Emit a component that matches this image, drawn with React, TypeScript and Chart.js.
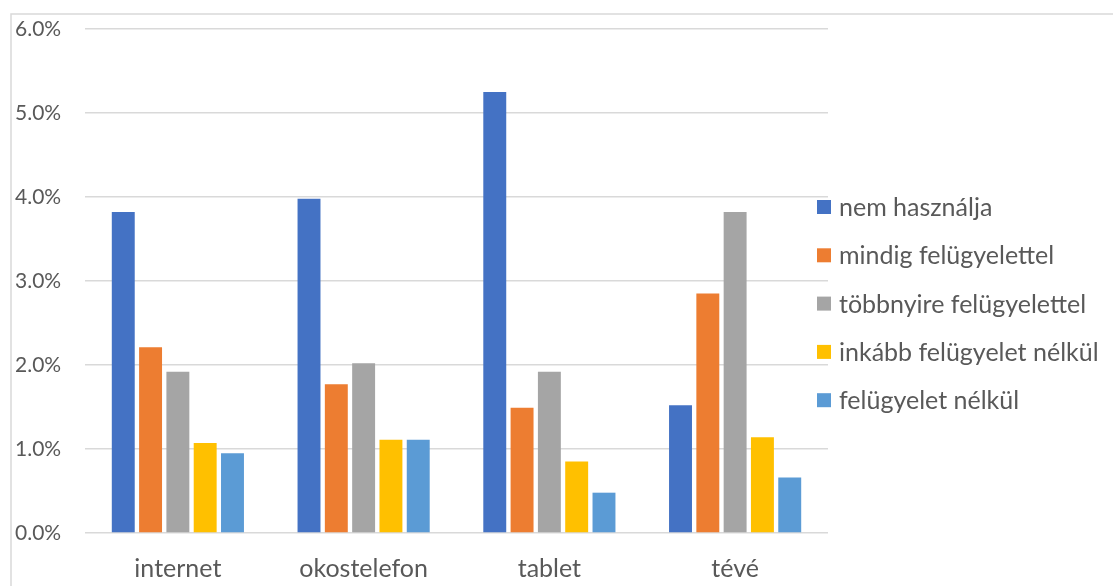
import React, { useEffect, useRef } from "react";
import { Chart, registerables } from "chart.js";

Chart.register(...registerables);

const categories = ["internet", "okostelefon", "tablet", "tévé"];
const seriesNames = [
  "nem használja",
  "mindig felügyelettel",
  "többnyire felügyelettel",
  "inkább felügyelet nélkül",
  "felügyelet nélkül",
];
const nemHasznalja = [3.82, 3.98, 5.25, 1.52];
const mindigFelugyelettel = [2.21, 1.77, 1.49, 2.85];
const tobbnyireFelugyelettel = [1.92, 2.02, 1.92, 3.82];
const inkabbFelugyeletNelkul = [1.07, 1.11, 0.85, 1.14];
const felugyeletNelkul = [0.95, 1.11, 0.48, 0.66];
const seriesColors = ["#4472C4", "#ED7D31", "#A5A5A5", "#FFC000", "#5B9BD5"];
const yTicks = [0, 1, 2, 3, 4, 5, 6];

const FONT = "Lato, 'Open Sans', sans-serif";
const TEXT = "#595959";

// Frame of the chart object (only its top and left edges fall on the page)
const framePlugin = {
  id: "frame",
  beforeDraw(chart: any) {
    const { ctx } = chart;
    ctx.save();
    ctx.strokeStyle = "#d9d9d9";
    ctx.lineWidth = 1.5;
    ctx.beginPath();
    ctx.moveTo(11, chart.height);
    ctx.lineTo(11, 14);
    ctx.lineTo(chart.width, 14);
    ctx.stroke();
    ctx.restore();
  },
};

// Vertical legend laid over the right end of the plot area
const legendPlugin = {
  id: "sideLegend",
  afterDraw(chart: any) {
    const { ctx } = chart;
    const x = 817;
    const top = 200;
    const step = 48.3;
    const box = 14;
    ctx.save();
    ctx.font = `25px ${FONT}`;
    ctx.textBaseline = "middle";
    ctx.textAlign = "left";
    chart.data.datasets.forEach((ds: any, i: number) => {
      const y = top + i * step;
      ctx.fillStyle = ds.backgroundColor;
      ctx.fillRect(x, y, box, box);
      ctx.fillStyle = TEXT;
      ctx.fillText(ds.label, x + 22, y + box / 2 + 1);
    });
    ctx.restore();
  },
};

export default function App() {
  const ref = useRef<HTMLCanvasElement>(null);

  useEffect(() => {
    if (!ref.current) return;
    const values = [
      nemHasznalja,
      mindigFelugyelettel,
      tobbnyireFelugyelettel,
      inkabbFelugyeletNelkul,
      felugyeletNelkul,
    ];
    const chart = new Chart(ref.current, {
      type: "bar",
      data: {
        labels: categories,
        datasets: seriesNames.map((name, i) => ({
          label: name,
          data: values[i],
          backgroundColor: seriesColors[i],
          borderWidth: 0,
          categoryPercentage: 0.735,
          barPercentage: 0.84,
        })),
      },
      options: {
        responsive: false,
        animation: false,
        layout: { padding: { left: 15, top: 29, right: 285, bottom: 0 } },
        plugins: {
          legend: { display: false },
          tooltip: { enabled: false },
        },
        scales: {
          x: {
            grid: { display: false },
            border: { display: false },
            ticks: {
              color: TEXT,
              font: { family: FONT, size: 25 },
              padding: 13,
            },
            afterFit: (s: any) => {
              s.height = 53;
            },
          },
          y: {
            min: 0,
            max: 6,
            afterBuildTicks: (s: any) => {
              s.ticks = yTicks.map((v) => ({ value: v }));
            },
            grid: { color: "#d9d9d9", lineWidth: 1.5, drawTicks: false },
            border: { display: false },
            ticks: {
              color: TEXT,
              font: { family: FONT, size: 21 },
              padding: 0,
              crossAlign: "far",
              callback: (v: any) => `${Number(v).toFixed(1)}%`,
            },
            afterFit: (s: any) => {
              s.width = 70;
            },
          },
        },
      },
      plugins: [framePlugin, legendPlugin],
    });
    return () => chart.destroy();
  }, []);

  return (
    <div style={{ position: "absolute", left: 0, top: 0, width: 1113, height: 586, background: "#fff" }}>
      <canvas ref={ref} width={1113} height={586} />
    </div>
  );
}
